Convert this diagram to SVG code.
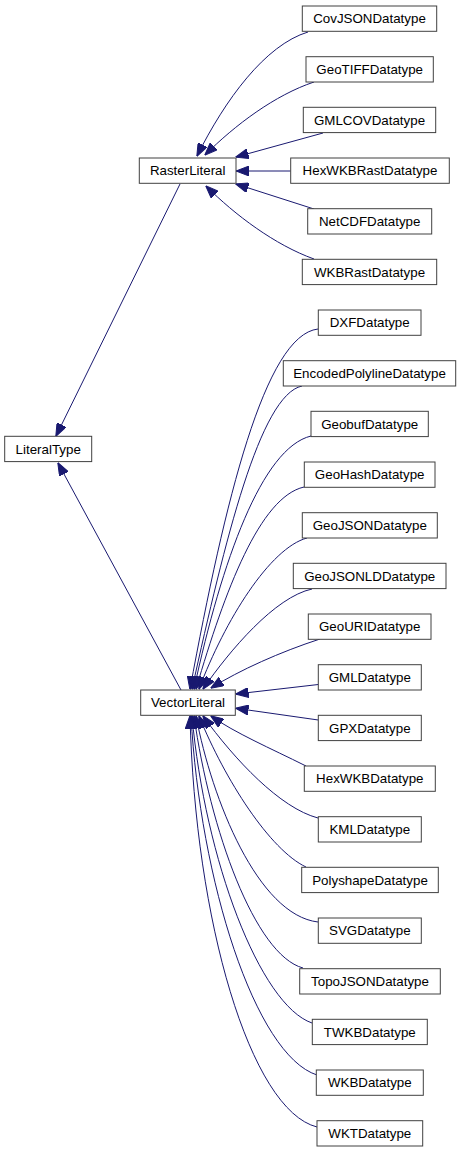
<svg xmlns="http://www.w3.org/2000/svg" width="461" height="1152" viewBox="0 0 461 1152">
<style>
.n rect{fill:#fff;stroke:#404040;stroke-width:1}
.n text{font-family:"Liberation Sans",Arial,sans-serif;font-size:13.33px;fill:#000;text-anchor:middle}
.e path{fill:none;stroke:#191970;stroke-width:1;marker-end:url(#arr)}
</style>
<defs>
<marker id="arr" viewBox="0 0 13 10" markerWidth="13" markerHeight="10" refX="12.5" refY="5" orient="auto" markerUnits="userSpaceOnUse">
<path d="M0,0 L13,5 L0,10 z" fill="#191970" stroke="#191970" stroke-width="1"/>
</marker>
</defs>
<rect width="461" height="1152" fill="#fff"/>
<g id="connectors" class="e">
<path d="M308,32 C265,45 225,100 197,156"/>
<path d="M314,82 C275,95 235,125 205,155"/>
<path d="M323,133 L236,157"/>
<path d="M290.7,171 L236.5,171"/>
<path d="M314,209 L236,184"/>
<path d="M314,259 C275,245 235,215 206,186"/>
<path d="M180,184 L56,436"/>
<path d="M181,690 L58,463"/>
<path d="M318,329 C265,335 225,500 190,689"/>
<path d="M302,386 C260,395 225,540 192,689"/>
<path d="M311,436 C262,448 222,560 194,689"/>
<path d="M304,487 C260,497 225,590 196,689"/>
<path d="M307,538 C270,548 225,620 199,689"/>
<path d="M312,589 C275,597 230,650 203,689"/>
<path d="M320,639 C280,652 240,670 211,688"/>
<path d="M318.3,684.5 L236,694"/>
<path d="M318.3,720 L236,708.3"/>
<path d="M306,766 C270,748 235,733 211,716"/>
<path d="M318,818 C280,808 235,760 203,716"/>
<path d="M306,867 C270,850 225,780 199,716"/>
<path d="M318,922 C258,915 212,800 196,716"/>
<path d="M303,968 C255,955 210,830 194,716"/>
<path d="M312,1023 C260,1005 205,860 192,716"/>
<path d="M317,1075 C255,1055 200,880 191,716"/>
<path d="M317,1127 C250,1110 195,920 190,716"/>
</g>
<g id="LiteralType" class="n"><rect x="4.7" y="436.3" width="87" height="25.3"/><text x="48.2" y="453.5">LiteralType</text></g>
<g id="RasterLiteral" class="n"><rect x="139.3" y="158" width="96.7" height="25.3"/><text x="187.7" y="175.2">RasterLiteral</text></g>
<g id="VectorLiteral" class="n"><rect x="140.7" y="690" width="94.6" height="25.3"/><text x="188" y="707.2">VectorLiteral</text></g>
<g id="CovJSONDatatype" class="n"><rect x="302.3" y="6" width="134.4" height="25.3"/><text x="369.5" y="23.2">CovJSONDatatype</text></g>
<g id="GeoTIFFDatatype" class="n"><rect x="306" y="56.7" width="127.3" height="25.3"/><text x="369.7" y="73.9">GeoTIFFDatatype</text></g>
<g id="GMLCOVDatatype" class="n"><rect x="303.3" y="107.3" width="132.4" height="25.3"/><text x="369.5" y="124.5">GMLCOVDatatype</text></g>
<g id="HexWKBRastDatatype" class="n"><rect x="290.7" y="158" width="158.6" height="25.3"/><text x="370" y="175.2">HexWKBRastDatatype</text></g>
<g id="NetCDFDatatype" class="n"><rect x="307.7" y="208.7" width="124" height="25.3"/><text x="369.7" y="225.9">NetCDFDatatype</text></g>
<g id="WKBRastDatatype" class="n"><rect x="302.3" y="259.3" width="134.4" height="25.3"/><text x="369.5" y="276.5">WKBRastDatatype</text></g>
<g id="DXFDatatype" class="n"><rect x="318.3" y="310" width="102.7" height="25.3"/><text x="369.7" y="327.2">DXFDatatype</text></g>
<g id="EncodedPolylineDatatype" class="n"><rect x="283.3" y="360.7" width="172.4" height="25.3"/><text x="369.5" y="377.9">EncodedPolylineDatatype</text></g>
<g id="GeobufDatatype" class="n"><rect x="311" y="411.3" width="117.3" height="25.3"/><text x="369.7" y="428.5">GeobufDatatype</text></g>
<g id="GeoHashDatatype" class="n"><rect x="304.3" y="462" width="130.7" height="25.3"/><text x="369.7" y="479.2">GeoHashDatatype</text></g>
<g id="GeoJSONDatatype" class="n"><rect x="302.3" y="512.7" width="135" height="25.3"/><text x="369.8" y="529.9">GeoJSONDatatype</text></g>
<g id="GeoJSONLDDatatype" class="n"><rect x="293.3" y="563.3" width="152.7" height="25.3"/><text x="369.7" y="580.5">GeoJSONLDDatatype</text></g>
<g id="GeoURIDatatype" class="n"><rect x="308.3" y="614" width="122.7" height="25.3"/><text x="369.7" y="631.2">GeoURIDatatype</text></g>
<g id="GMLDatatype" class="n"><rect x="318.3" y="664.7" width="103" height="25.3"/><text x="369.8" y="681.9">GMLDatatype</text></g>
<g id="GPXDatatype" class="n"><rect x="318.3" y="715.3" width="103" height="25.3"/><text x="369.8" y="732.5">GPXDatatype</text></g>
<g id="HexWKBDatatype" class="n"><rect x="304.3" y="766" width="131" height="25.3"/><text x="369.8" y="783.2">HexWKBDatatype</text></g>
<g id="KMLDatatype" class="n"><rect x="318.3" y="816.7" width="103" height="25.3"/><text x="369.8" y="833.9">KMLDatatype</text></g>
<g id="PolyshapeDatatype" class="n"><rect x="301.7" y="867.3" width="136.6" height="25.3"/><text x="370" y="884.5">PolyshapeDatatype</text></g>
<g id="SVGDatatype" class="n"><rect x="318.3" y="918" width="103" height="25.3"/><text x="369.8" y="935.2">SVGDatatype</text></g>
<g id="TopoJSONDatatype" class="n"><rect x="299.7" y="968.7" width="140.6" height="25.3"/><text x="370" y="985.9">TopoJSONDatatype</text></g>
<g id="TWKBDatatype" class="n"><rect x="312.3" y="1019.3" width="115" height="25.3"/><text x="369.8" y="1036.5">TWKBDatatype</text></g>
<g id="WKBDatatype" class="n"><rect x="316.3" y="1070" width="107" height="25.3"/><text x="369.8" y="1087.2">WKBDatatype</text></g>
<g id="WKTDatatype" class="n"><rect x="317" y="1120.7" width="105.7" height="25.3"/><text x="369.8" y="1137.9">WKTDatatype</text></g>
</svg>
